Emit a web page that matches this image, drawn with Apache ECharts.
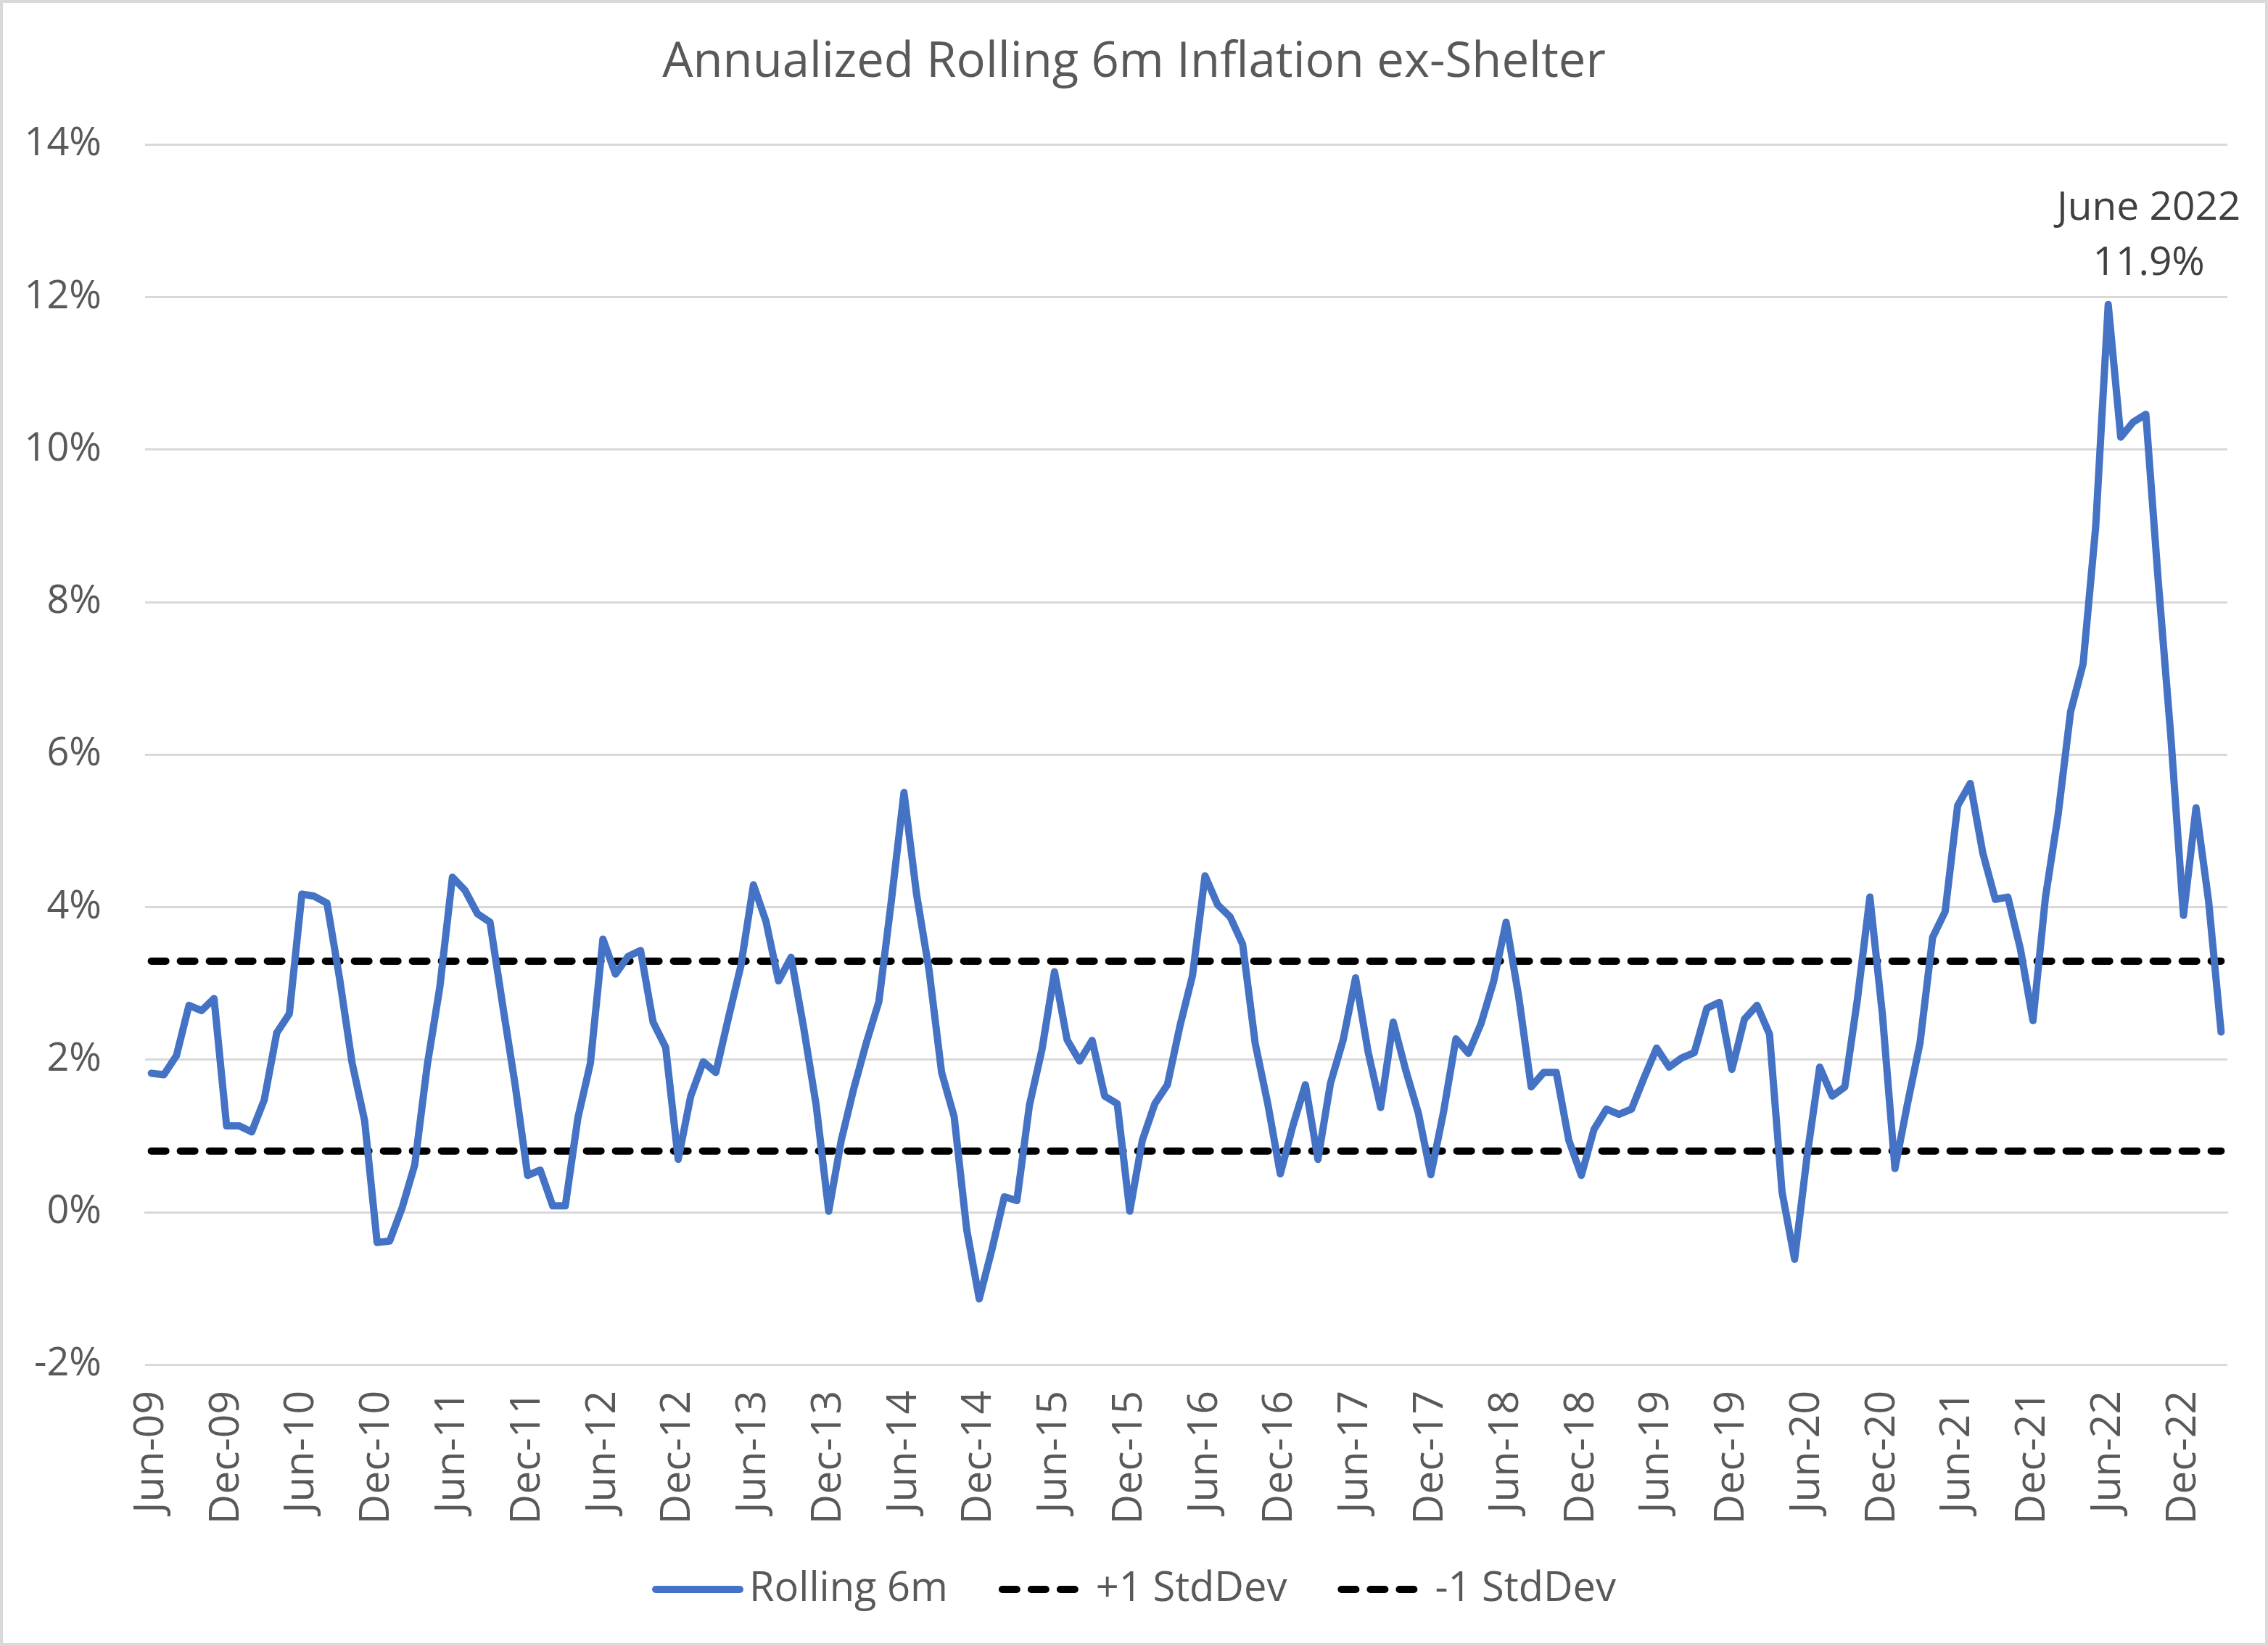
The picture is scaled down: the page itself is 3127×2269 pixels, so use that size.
<!DOCTYPE html>
<html>
<head>
<meta charset="utf-8">
<script src="https://cdn.jsdelivr.net/npm/echarts@6/dist/echarts.min.js"></script>
<style>
html,body{margin:0;padding:0;background:#fff;}
#c{width:3127px;height:2269px;}
</style>
</head>
<body>
<div id="c"></div>
<script>
// ---- data ----
const titleText = 'Annualized Rolling 6m Inflation ex-Shelter';
const monthNames = ['Jan','Feb','Mar','Apr','May','Jun','Jul','Aug','Sep','Oct','Nov','Dec'];
const startYear = 2009, startMonth = 5;   // Jun-09
const pointCount = 166;                     // Jun-09 .. Mar-23
const categories = [];
for (let k = 0; k < pointCount; k++) {
  const m = (startMonth + k) % 12;
  const y = startYear + Math.floor((startMonth + k) / 12);
  categories.push(monthNames[m] + '-' + String(y % 100).padStart(2, '0'));
}
const rolling6m = [
  1.82, 1.80, 2.05, 2.71, 2.64, 2.80, 1.13, 1.13, 1.05, 1.47, 2.35, 2.60,
  4.17, 4.14, 4.05, 3.07, 1.96, 1.20, -0.40, -0.38, 0.06, 0.62, 1.93, 2.95,
  4.39, 4.22, 3.91, 3.80, 2.72, 1.67, 0.48, 0.55, 0.08, 0.08, 1.23, 1.95,
  3.58, 3.12, 3.35, 3.43, 2.49, 2.16, 0.69, 1.52, 1.97, 1.83, 2.54, 3.23,
  4.29, 3.81, 3.03, 3.34, 2.42, 1.40, 0.01, 0.94, 1.62, 2.22, 2.76, 4.09,
  5.50, 4.17, 3.17, 1.83, 1.25, -0.23, -1.14, -0.50, 0.20, 0.15, 1.40, 2.13,
  3.15, 2.26, 1.98, 2.25, 1.52, 1.42, 0.01, 0.94, 1.42, 1.67, 2.44, 3.10,
  4.41, 4.03, 3.87, 3.51, 2.21, 1.42, 0.50, 1.13, 1.67, 0.69, 1.69, 2.25,
  3.07, 2.10, 1.37, 2.49, 1.86, 1.30, 0.49, 1.30, 2.27, 2.08, 2.47, 3.02,
  3.80, 2.83, 1.64, 1.83, 1.83, 0.94, 0.48, 1.08, 1.35, 1.28, 1.35, 1.76,
  2.15, 1.90, 2.02, 2.09, 2.67, 2.75, 1.87, 2.53, 2.71, 2.33, 0.26, -0.62,
  0.74, 1.90, 1.52, 1.64, 2.78, 4.13, 2.59, 0.57, 1.42, 2.22, 3.60, 3.94,
  5.33, 5.62, 4.71, 4.10, 4.13, 3.45, 2.51, 4.13, 5.20, 6.56, 7.19, 8.98,
  11.90, 10.16, 10.36, 10.46, 8.25, 6.22, 3.89, 5.30, 4.08, 2.36
];
const plusStdDev = 3.29;
const minusStdDev = 0.80;
const seriesNames = ['Rolling 6m', '+1 StdDev', '-1 StdDev'];
const peakLabel = 'June 2022';
const yTicks = { min: -2, max: 14, interval: 2 };

// ---- chart ----
const plusLine = categories.map(() => plusStdDev);
const minusLine = categories.map(() => minusStdDev);

const FONT = '"Open Sans", sans-serif';
const GREY = '#595959';
const LW = 10;

const chart = echarts.init(document.getElementById('c'), null, { renderer: 'canvas' });
chart.setOption({
  backgroundColor: '#ffffff',
  animation: false,
  title: {
    text: titleText,
    left: 'center',
    top: 48,
    textStyle: { fontFamily: FONT, fontSize: 67, fontWeight: 'normal', color: GREY }
  },
  graphic: [{
    type: 'rect', shape: { x: 2, y: 2, width: 3123, height: 2265 },
    style: { fill: 'none', stroke: '#d9d9d9', lineWidth: 4 }, silent: true
  }],
  legend: {
    data: seriesNames,
    left: 'center',
    top: 2158,
    itemWidth: 116,
    itemHeight: 8,
    itemGap: 70,
    lineStyle: { width: LW },
    textStyle: { fontFamily: FONT, fontSize: 56, color: GREY, padding: [0, 0, 0, 8] }
  },
  grid: { left: 200, right: 56, top: 199, bottom: 388, containLabel: false },
  xAxis: {
    type: 'category',
    data: categories,
    boundaryGap: true,
    axisLine: { show: true, lineStyle: { color: '#d9d9d9', width: 3 } },
    axisTick: { show: false },
    axisLabel: {
      interval: 5,
      rotate: 90,
      margin: 36,
      fontFamily: FONT,
      fontSize: 57,
      color: GREY
    }
  },
  yAxis: {
    type: 'value',
    min: yTicks.min, max: yTicks.max, interval: yTicks.interval,
    axisLine: { show: false },
    axisTick: { show: false },
    splitLine: { lineStyle: { color: '#d9d9d9', width: 3 } },
    axisLabel: {
      formatter: '{value}%',
      margin: 60,
      fontFamily: FONT,
      fontSize: 54,
      color: GREY
    }
  },
  series: [
    {
      name: seriesNames[0],
      type: 'line',
      data: rolling6m,
      symbol: 'none',
      z: 3,
      lineStyle: { color: '#4472C4', width: LW, cap: 'round', join: 'round' },
      itemStyle: { color: '#4472C4' },
      markPoint: {
        symbol: 'circle',
        symbolSize: 0,
        data: [{ type: 'max' }],
        label: {
          show: true,
          position: 'top',
          distance: 5,
          offset: [56, -13],
          align: 'center',
          fontFamily: FONT,
          fontSize: 55,
          lineHeight: 76,
          color: '#404040',
          formatter: (p) => peakLabel + '\n' + Number(p.value).toFixed(1) + '%'
        }
      }
    },
    {
      name: seriesNames[1],
      type: 'line',
      data: plusLine,
      symbol: 'none',
      z: 2,
      lineStyle: { color: '#000000', width: LW, type: [20, 20], cap: 'round' },
      itemStyle: { color: '#000000' }
    },
    {
      name: seriesNames[2],
      type: 'line',
      data: minusLine,
      symbol: 'none',
      z: 2,
      lineStyle: { color: '#000000', width: LW, type: [20, 20], cap: 'round' },
      itemStyle: { color: '#000000' }
    }
  ]
});
</script>
</body>
</html>
